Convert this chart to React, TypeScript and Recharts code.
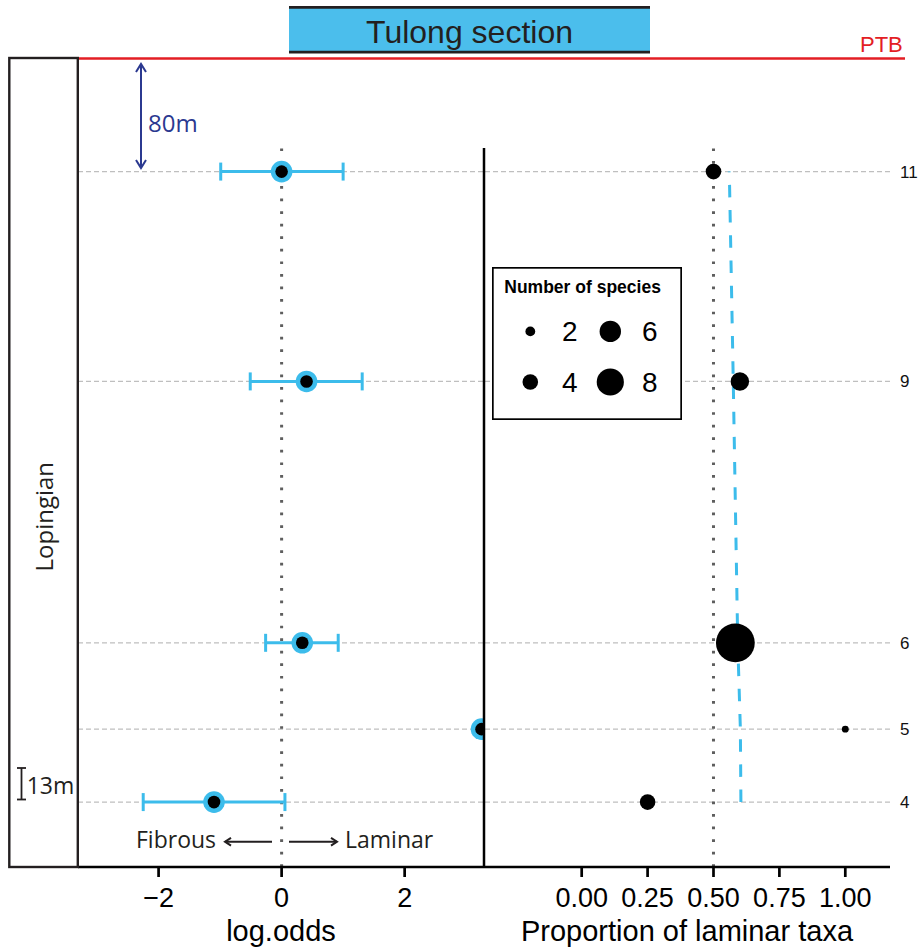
import React from 'react'
import {
  ScatterChart,
  Scatter,
  XAxis,
  YAxis,
  ReferenceLine,
  ErrorBar,
  Legend,
} from 'recharts'

// sampled beds, bottom to top; height in metres above bed 4
const levels = ['4', '5', '6', '9', '11']
const heights = [0, 30, 65.5, 173, 259.3]

// log odds of laminar vs fibrous, with 95% interval
// bed 5 is all laminar (infinite odds) and sits on the panel edge
const logOdds = [-1.099, 3.25, 0.336, 0.405, 0]
const ciLow: (number | null)[] = [-2.25, null, -0.26, -0.51, -0.99]
const ciHigh: (number | null)[] = [0.054, null, 0.92, 1.31, 1.0]

// proportion of laminar taxa and species counts per bed
const laminarShare = [0.25, 1.0, 0.583, 0.6, 0.5]
const speciesCount = [4, 1, 12, 5, 4]
// fitted trend of the laminar proportion
const trendShare = [0.604, 0.602, 0.592, 0.575, 0.56]

const legendCounts = [2, 4, 6, 8]
const logOddsTicks = [-2, 0, 2]
const shareTicks = [0, 0.25, 0.5, 0.75, 1]

const SANS = '"Liberation Sans", Arial, sans-serif'
const HUM = '"Open Sans", sans-serif'
const BLUE = '#3CBCEB'
const INK = '#231F20'
const yDomain = [-26.7, 269]
const shareDomain = [-0.3706, 1.1696]

const oddsRows = levels.map((level, i) => {
  const lo = ciLow[i]
  const hi = ciHigh[i]
  return {
    level,
    height: heights[i],
    logOdds: logOdds[i],
    err: lo == null || hi == null ? [0, 0] : [logOdds[i] - lo, hi - logOdds[i]],
  }
})

const shareRows = levels.map((level, i) => ({
  level,
  height: heights[i],
  share: laminarShare[i],
  species: speciesCount[i],
}))

const trendRows = levels.map((level, i) => ({
  level,
  height: heights[i],
  share: trendShare[i],
}))

const dotRadius = (n: number) => 2 + 1.45 * n

const fmtOdds = (v: number) => (v < 0 ? `\u2212${Math.abs(v)}` : `${v}`)

const OddsDot = (props: any) => (
  <g>
    <circle cx={props.cx} cy={props.cy} r={10.8} fill={BLUE} />
    <circle cx={props.cx} cy={props.cy} r={6.3} fill="#000" />
  </g>
)

const ShareDot = (props: any) => (
  <circle cx={props.cx} cy={props.cy} r={dotRadius(props.payload.species)} fill="#000" />
)

const NoDot = () => <g />

function SpeciesKey() {
  return (
    <svg width={190} height={153} style={{ display: 'block' }}>
      <rect x={0.85} y={0.85} width={188.3} height={151.3} fill="#fff" stroke="#000" strokeWidth={1.7} />
      <text x={12.3} y={26} fontFamily={SANS} fontWeight="bold" fontSize={17.5} fill="#000">
        Number of species
      </text>
      {legendCounts.map((n, i) => {
        const col = Math.floor(i / 2)
        const row = i % 2
        const cx = 38.3 + col * 80
        const cy = 64.4 + row * 50.6
        return (
          <g key={n}>
            <circle cx={cx} cy={cy} r={dotRadius(n)} fill="#000" />
            <text x={cx + 31.7} y={cy + 10} fontFamily={SANS} fontSize={28} fill="#000">
              {n}
            </text>
          </g>
        )
      })}
    </svg>
  )
}

const axisLine = { stroke: '#000', strokeWidth: 2.7 }
const tickStyle = { fontSize: 27, fill: '#000', fontFamily: SANS }
const gridLine = { stroke: '#bfbfbf', strokeDasharray: '5 3', strokeWidth: 1.2 }
const dotLine = { stroke: '#5e5e5e', strokeDasharray: '2.7 9.86', strokeWidth: 3 }

export default function App() {
  return (
    <div style={{ position: 'absolute', left: 0, top: 0, width: 924, height: 952, background: '#fff' }}>
      <div style={{ position: 'absolute', left: 0, top: 0 }}>
        <ScatterChart width={484} height={952} margin={{ top: 148, right: 0, bottom: 0, left: 78 }}>
          <XAxis
            type="number"
            dataKey="logOdds"
            domain={[-3.31, 3.29]}
            ticks={logOddsTicks}
            allowDataOverflow
            height={85}
            tickFormatter={fmtOdds}
            axisLine={axisLine}
            tickLine={axisLine}
            tickSize={10}
            tickMargin={11}
            tick={tickStyle}
            label={{ value: 'log.odds', position: 'insideBottom', offset: 11, fontSize: 29, fill: '#000', fontFamily: SANS }}
          />
          <YAxis type="number" dataKey="height" domain={yDomain} hide width={0} allowDataOverflow />
          {heights.map((h) => (
            <ReferenceLine key={h} y={h} {...gridLine} />
          ))}
          <ReferenceLine x={0} {...dotLine} />
          <Scatter data={oddsRows} shape={OddsDot} isAnimationActive={false}>
            <ErrorBar dataKey="err" direction="x" width={9} strokeWidth={3} stroke={BLUE} />
          </Scatter>
        </ScatterChart>
      </div>

      <div style={{ position: 'absolute', left: 474, top: 0 }}>
        <ScatterChart width={450} height={952} margin={{ top: 148, right: 0, bottom: 0, left: 10 }}>
          <XAxis
            type="number"
            dataKey="share"
            domain={shareDomain}
            ticks={shareTicks}
            allowDataOverflow
            height={85}
            tickFormatter={(v: number) => v.toFixed(2)}
            axisLine={axisLine}
            tickLine={axisLine}
            tickSize={10}
            tickMargin={11}
            tick={tickStyle}
            label={{
              value: 'Proportion of laminar taxa',
              position: 'insideBottom',
              offset: 11,
              fontSize: 29,
              fill: '#000',
              fontFamily: SANS,
            }}
          />
          <YAxis
            orientation="right"
            type="number"
            dataKey="height"
            domain={yDomain}
            allowDataOverflow
            ticks={heights}
            interval={0}
            width={34}
            tickFormatter={(v: number) => levels[heights.indexOf(v)]}
            axisLine={false}
            tickLine={false}
            tickSize={6}
            tickMargin={4}
            tick={{ fontSize: 17, fill: '#111', fontFamily: SANS }}
          />
          {heights.map((h) => (
            <ReferenceLine key={h} y={h} {...gridLine} />
          ))}
          {/* panel divider on the left edge of the proportion panel */}
          <ReferenceLine x={shareDomain[0]} stroke="#000" strokeWidth={2.5} />
          <ReferenceLine x={0.5} {...dotLine} />
          <Scatter
            data={trendRows}
            shape={NoDot}
            line={{ stroke: BLUE, strokeWidth: 3, strokeDasharray: '12.5 12.7' }}
            isAnimationActive={false}
          />
          <Scatter data={shareRows} shape={ShareDot} isAnimationActive={false} />
          <Legend
            layout="horizontal"
            verticalAlign="middle"
            align="center"
            wrapperStyle={{ left: 17.7, top: 267.3, width: 190, height: 153 }}
            content={() => <SpeciesKey />}
          />
        </ScatterChart>
      </div>

      {/* section title, boundary line and stratigraphic annotations */}
      <svg
        width={924}
        height={952}
        style={{ position: 'absolute', left: 0, top: 0, pointerEvents: 'none' }}
      >
        <rect x={289} y={7.5} width={361} height={44.5} fill="#4BBEEC" />
        <line x1={289} x2={650} y1={7.3} y2={7.3} stroke={INK} strokeWidth={2.7} />
        <line x1={289} x2={650} y1={52.2} y2={52.2} stroke={INK} strokeWidth={2.7} />
        <text x={469.5} y={42.5} textAnchor="middle" fontFamily={SANS} fontSize={32} fill={INK}>
          Tulong section
        </text>

        <line x1={78} x2={905} y1={58.5} y2={58.5} stroke="#E31E24" strokeWidth={2.7} />
        <text x={860} y={51.7} fontFamily={SANS} fontSize={22} fill="#E31E24">
          PTB
        </text>

        <rect x={9.3} y={58} width={68.5} height={809} fill="none" stroke={INK} strokeWidth={2.4} />
        <text transform="translate(53 516.7) rotate(-90)" textAnchor="middle" fontFamily={HUM} fontSize={24} fill={INK}>
          Lopingian
        </text>

        <g stroke="#2B3990" strokeWidth={2} fill="none">
          <line x1={141} x2={141} y1={64} y2={168} />
          <polyline points="136,72 141,64 146,72" />
          <polyline points="136,160 141,168 146,160" />
        </g>
        <text x={148} y={131.7} fontFamily={HUM} fontSize={24} fill="#2B3990">
          80m
        </text>

        <g stroke={INK} strokeWidth={1.8}>
          <line x1={21.5} x2={21.5} y1={768} y2={799.5} />
          <line x1={17} x2={26} y1={768} y2={768} />
          <line x1={17} x2={26} y1={799.5} y2={799.5} />
        </g>
        <text x={26.7} y={794} fontFamily={HUM} fontSize={23} fill={INK}>
          13m
        </text>

        <text x={136} y={848.3} fontFamily={HUM} fontSize={23} fill={INK}>
          Fibrous
        </text>
        <g stroke={INK} strokeWidth={2} fill="none">
          <line x1={225} x2={272} y1={841.7} y2={841.7} />
          <polyline points="231,837.8 225,841.7 231,845.6" />
          <line x1={289} x2={337} y1={841.7} y2={841.7} />
          <polyline points="331,837.8 337,841.7 331,845.6" />
        </g>
        <text x={345} y={848.3} fontFamily={HUM} fontSize={23} fill={INK}>
          Laminar
        </text>
      </svg>
    </div>
  )
}
